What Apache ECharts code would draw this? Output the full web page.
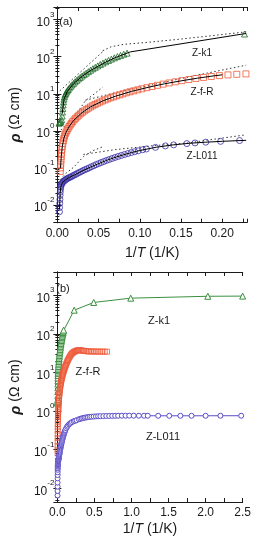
<!DOCTYPE html>
<html><head><meta charset="utf-8">
<script src="https://cdn.jsdelivr.net/npm/echarts@6/dist/echarts.min.js"></script>
<style>html,body{margin:0;padding:0;background:#fff}#c{width:254px;height:545px}</style>
</head><body><div id="c"></div>
<script>
// ---- data: [1/T (1/K), rho (Ohm cm)] ----
const zk1 = [[0.0020,1.6],[0.0028,1.65],[0.0036,1.7],[0.0044,1.8],[0.0052,2.0],[0.0058,2.5],[0.0062,3.2],[0.0066,4.0],[0.0070,5.0],[0.0075,6.1],[0.0080,7.2],[0.0086,8.3],[0.0093,9.3],[0.0101,10.2],[0.0110,11.1],[0.0120,12.0],[0.0131,13.0],[0.0145,14.3],[0.0161,15.8],[0.0178,17.4],[0.0196,19.1],[0.0215,21.0],[0.0235,23.0],[0.0256,25.2],[0.0278,27.6],[0.0301,30.2],[0.0325,33.0],[0.0350,36.0],[0.0376,39.5],[0.0403,43.3],[0.0431,47.4],[0.0460,51.8],[0.0490,56.6],[0.0521,61.8],[0.0553,67.3],[0.0586,73.2],[0.0620,79.5],[0.0655,86.2],[0.0691,93.3],[0.0728,100.8],[0.0766,108.7],[0.0805,117],[0.0845,125],[0.227,410],[0.49,650],[0.99,840],[2.03,940],[2.5,950]];
const zfR = [[0.0035,0.08],[0.0038,0.1],[0.0041,0.125],[0.0044,0.16],[0.0047,0.2],[0.0051,0.25],[0.0055,0.31],[0.0060,0.38],[0.0066,0.46],[0.0072,0.54],[0.0079,0.63],[0.0087,0.72],[0.0096,0.82],[0.0106,0.92],[0.0117,1.03],[0.0129,1.15],[0.0142,1.29],[0.0156,1.44],[0.0171,1.6],[0.0187,1.78],[0.0204,1.97],[0.0222,2.18],[0.0241,2.40],[0.0261,2.64],[0.0282,2.89],[0.0304,3.16],[0.0327,3.44],[0.0351,3.74],[0.0376,4.06],[0.0402,4.40],[0.0429,4.76],[0.0457,5.14],[0.0486,5.54],[0.0516,5.96],[0.0547,6.38],[0.0579,6.82],[0.0612,7.28],[0.0646,7.76],[0.0681,8.26],[0.0717,8.78],[0.0755,9.33],[0.0795,9.92],[0.0837,10.6],[0.0881,11.3],[0.0927,12.0],[0.0975,12.8],[0.1025,13.6],[0.1085,14.6],[0.1148,15.7],[0.1214,16.9],[0.1283,18.2],[0.1355,19.6],[0.1431,21.0],[0.1511,22.6],[0.1594,24.2],[0.1681,25.9],[0.1772,27.6],[0.1867,29.3],[0.1966,30.9],[0.2069,32.3],[0.2176,33.5],[0.2287,34.4],[0.240,35.3],[0.252,36.2],[0.265,37.0],[0.279,37.6],[0.294,37.8],[0.310,37.6],[0.327,37.1],[0.345,36.5],[0.364,36.0],[0.384,35.6],[0.405,35.3],[0.427,35.1],[0.450,35.0],[0.474,34.9],[0.499,34.8],[0.525,34.8],[0.552,34.7],[0.580,34.7],[0.609,34.6],[0.639,34.6],[0.670,34.5]];
const zL011 = [[0.0025,0.0065],[0.0027,0.0085],[0.0029,0.011],[0.0031,0.014],[0.0033,0.018],[0.0035,0.022],[0.0038,0.026],[0.0041,0.030],[0.0045,0.033],[0.0050,0.036],[0.0056,0.038],[0.0063,0.040],[0.0071,0.042],[0.0080,0.044],[0.0090,0.046],[0.0101,0.048],[0.0113,0.050],[0.0126,0.052],[0.0140,0.054],[0.0155,0.056],[0.0171,0.058],[0.0188,0.061],[0.0206,0.064],[0.0225,0.067],[0.0245,0.071],[0.0266,0.075],[0.0288,0.079],[0.0311,0.084],[0.0335,0.089],[0.0360,0.094],[0.0386,0.100],[0.0413,0.107],[0.0441,0.114],[0.0470,0.122],[0.0500,0.130],[0.0531,0.139],[0.0563,0.148],[0.0596,0.158],[0.0630,0.168],[0.0665,0.179],[0.0701,0.191],[0.0738,0.203],[0.0776,0.216],[0.0815,0.229],[0.0855,0.243],[0.0896,0.258],[0.0938,0.273],[0.0981,0.288],[0.1035,0.308],[0.108,0.323],[0.119,0.357],[0.131,0.391],[0.141,0.417],[0.157,0.451],[0.167,0.470],[0.180,0.492],[0.198,0.518],[0.221,0.545],[0.24,0.56],[0.26,0.58],[0.29,0.61],[0.31,0.63],[0.33,0.645],[0.35,0.66],[0.37,0.672],[0.39,0.684],[0.41,0.694],[0.435,0.704],[0.46,0.712],[0.49,0.72],[0.52,0.726],[0.55,0.732],[0.58,0.736],[0.62,0.74],[0.66,0.744],[0.70,0.747],[0.74,0.75],[0.78,0.752],[0.82,0.754],[0.87,0.756],[0.92,0.757],[0.97,0.758],[1.03,0.758],[1.10,0.757],[1.17,0.756],[1.22,0.755],[1.36,0.754],[1.51,0.753],[1.66,0.753],[1.81,0.753],[2.0,0.754],[2.2,0.755],[2.48,0.756]];
// fits (panel a)
const k1Fit = [[0.006,3.0],[0.008,7.0],[0.012,11.5],[0.02,19],[0.03,29.5],[0.04,42],[0.05,56],[0.06,74],[0.07,94],[0.0885,135],[0.229,425]];
const k1DotSteep = [[0.003,12],[0.057,150]];
const k1DotGentle = [[0.055,145],[0.065,185],[0.08,215],[0.11,245],[0.15,300],[0.19,375],[0.229,470]];
const fRFit = [[0.0038,0.1],[0.0047,0.2],[0.006,0.38],[0.008,0.64],[0.0106,0.92],[0.015,1.38],[0.02,1.93],[0.03,3.1],[0.04,4.4],[0.055,6.4],[0.07,8.5],[0.09,11.6],[0.11,14.9],[0.13,18.6],[0.15,22.3],[0.17,26.3],[0.19,30.5],[0.2,32.5]];
const fRDotSteep = [[0.0043,1.05],[0.012,1.6],[0.02,2.3],[0.027,3.8],[0.034,6.5],[0.045,10],[0.055,15]];
const fRDotGentle = [[0.034,6.7],[0.0745,11.3],[0.1135,17],[0.127,20],[0.17,32],[0.229,59]];
const L011Fit = [[0.0026,0.0075],[0.0030,0.0125],[0.0034,0.02],[0.004,0.029],[0.005,0.036],[0.007,0.042],[0.01,0.048],[0.015,0.056],[0.02,0.063],[0.03,0.082],[0.04,0.104],[0.05,0.13],[0.06,0.16],[0.07,0.191],[0.08,0.224],[0.09,0.259],[0.1,0.294],[0.12,0.36],[0.14,0.415],[0.16,0.46],[0.18,0.492],[0.2,0.52],[0.229,0.553]];
const L011DotSteep = [[0.0005,0.04],[0.01,0.07],[0.02,0.105],[0.0316,0.2],[0.043,0.29],[0.055,0.37]];
const L011DotGentle = [[0.0316,0.23],[0.07,0.31],[0.113,0.39],[0.159,0.47],[0.182,0.56],[0.229,0.78]];

const FONT = '"Liberation Sans", Arial, sans-serif';
const ink = '#1a1a1a';
const greenA = '#1d6a26', greenB = '#3a8f3e', red = '#ef5a3a', blueA = '#3a2fa6', blueB = '#5a4cc8';

function logLabel(v){
  const e = Math.round(Math.log10(v));
  return '{b|10}{s|' + e + '}';
}
const richY = {
  b:{fontSize:12, fontFamily:FONT, color:ink, lineHeight:18, verticalAlign:'bottom'},
  s:{fontSize:8, fontFamily:FONT, color:ink, lineHeight:18, verticalAlign:'top'}
};
function xAx(grid, max, interval, pos, show){
  return {
    type:'value', gridIndex:grid, min:0, max:max, interval:interval, position:pos,
    axisLine:{show:true, onZero:false, lineStyle:{color:ink, width:1}},
    axisTick:{show:true, inside:true, length:4, lineStyle:{color:ink}},
    minorTick:{show:true, splitNumber:2, length:4, lineStyle:{color:ink}},
    splitLine:{show:false},
    axisLabel:{show:show, color:ink, fontSize:12, fontFamily:FONT, margin:5,
      showMaxLabel: grid===1,
      formatter: v => interval===0.05 ? v.toFixed(2) : v.toFixed(1)},
    name: show ? '1/{i|T} (1/K)' : '', nameLocation:'middle', nameGap: grid===0 ? 23 : 20,
    nameTextStyle:{fontSize:14, fontFamily:FONT, color:ink,
      rich:{i:{fontSize:14, fontFamily:FONT, color:ink, fontStyle:'italic'}}}
  };
}
function yAx(grid, min, max, pos, show){
  return {
    type:'log', logBase:10, gridIndex:grid, min:min, max:max, position:pos,
    axisLine:{show:true, lineStyle:{color:ink, width:1}},
    axisTick:{show:true, inside:true, length:4, lineStyle:{color:ink}},
    minorTick:{show:true, splitNumber:9, length:2, lineStyle:{color:ink}},
    splitLine:{show:false},
    axisLabel:{show:show, margin:3, showMinLabel:false, showMaxLabel:false,
      formatter:logLabel, rich:richY},
    name: show ? '{r|ρ} (Ω cm)' : '', nameLocation:'middle', nameGap:25,
    nameTextStyle:{fontSize:14, fontFamily:FONT, color:ink,
      rich:{r:{fontSize:15, fontFamily:FONT, color:ink, fontStyle:'italic', fontWeight:'bold'}}}
  };
}
function scat(x, y, data, symbol, size, color){
  return {type:'scatter', xAxisIndex:x, yAxisIndex:y, data:data, symbol:symbol, symbolSize:size,
    itemStyle:{color:'rgba(0,0,0,0)', borderColor:color, borderWidth:1}, silent:true, z:3};
}
function fit(data, dotted){
  return {type:'line', xAxisIndex:0, yAxisIndex:0, data:data, showSymbol:false, symbol:'none',
    lineStyle:{color: dotted ? '#333' : '#000', width:1, type: dotted ? [1.5,2.5] : 'solid'}, silent:true, z: dotted ? 2 : 4};
}
function lineMk(x, y, data, symbol, size, color){
  return {type:'line', xAxisIndex:x, yAxisIndex:y, data:data, symbol:symbol, symbolSize:size, showSymbol:true,
    lineStyle:{color:color, width:1}, itemStyle:{color:'#fff', borderColor:color, borderWidth:1}, silent:true, z:3};
}

const chart = echarts.init(document.getElementById('c'), null, {renderer:'canvas'});
chart.setOption({
  animation:false,
  grid:[
    {left:50, top:7, right:7, height:215.7, containLabel:false},
    {left:48, top:272, right:7, height:230, containLabel:false}
  ],
  xAxis:[xAx(0,0.23,0.05,'bottom',true), xAx(0,0.23,0.05,'top',false),
         xAx(1,2.5,0.5,'bottom',true), xAx(1,2.5,0.5,'top',false)],
  yAxis:[yAx(0,0.0033,2200,'left',true), yAx(0,0.0033,2200,'right',false),
         yAx(1,0.0044,4000,'left',true), yAx(1,0.0044,4000,'right',false)],
  series:[
    fit(k1DotSteep,true), fit(k1DotGentle,true), fit(fRDotSteep,true), fit(fRDotGentle,true),
    fit(L011DotSteep,true), fit(L011DotGentle,true),
    scat(0,0,zk1,'triangle',6,greenA),
    scat(0,0,zfR,'rect',6,red),
    scat(0,0,zL011,'circle',6,blueA),
    fit(k1Fit,false), fit(fRFit,false), fit(L011Fit,false),
    lineMk(2,2,zk1,'triangle',6,greenB),
    scat(2,2,zfR,'rect',5,red),
    lineMk(2,2,zL011,'circle',5,blueB)
  ],
  graphic:[
    {type:'text', x:66, y:22, style:{text:'(a)', font:'11px '+FONT, fill:ink, align:'center', verticalAlign:'middle'}},
    {type:'text', x:202, y:53, style:{text:'Z-k1', font:'10px '+FONT, fill:ink, align:'center', verticalAlign:'middle'}},
    {type:'text', x:202, y:92, style:{text:'Z-f-R', font:'10px '+FONT, fill:ink, align:'center', verticalAlign:'middle'}},
    {type:'text', x:202, y:156, style:{text:'Z-L011', font:'10px '+FONT, fill:ink, align:'center', verticalAlign:'middle'}},
    {type:'text', x:63, y:289, style:{text:'(b)', font:'11px '+FONT, fill:ink, align:'center', verticalAlign:'middle'}},
    {type:'text', x:159, y:321, style:{text:'Z-k1', font:'11px '+FONT, fill:ink, align:'center', verticalAlign:'middle'}},
    {type:'text', x:88, y:372, style:{text:'Z-f-R', font:'11px '+FONT, fill:ink, align:'center', verticalAlign:'middle'}},
    {type:'text', x:163, y:437, style:{text:'Z-L011', font:'11px '+FONT, fill:ink, align:'center', verticalAlign:'middle'}}
  ]
});
</script></body></html>
